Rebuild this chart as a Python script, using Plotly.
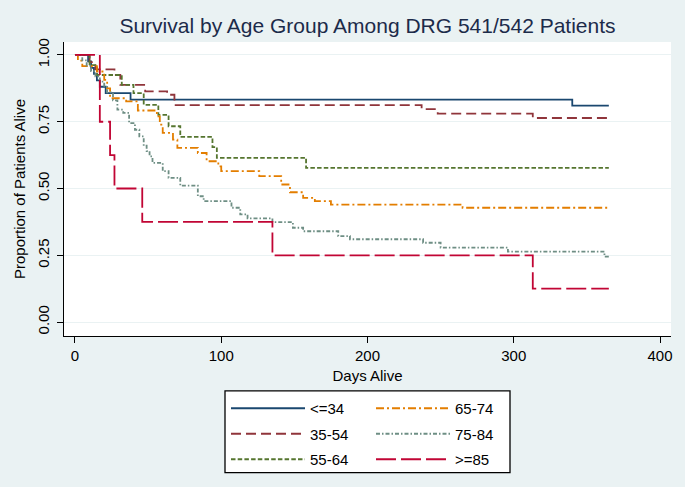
import plotly.graph_objects as go

# ---- data (Kaplan-Meier step values) ----
days_le34 = [0, 9, 11, 13, 15, 17, 21, 38, 340, 365]
surv_le34 = [1.0, 0.976, 0.952, 0.929, 0.905, 0.881, 0.857, 0.833, 0.810, 0.810]

days_35_54 = [0, 10, 14, 27, 31, 48, 63, 68, 237, 248, 313, 365]
surv_35_54 = [1.0, 0.973, 0.946, 0.925, 0.888, 0.864, 0.851, 0.812, 0.797, 0.780, 0.764, 0.764]

days_55_64 = [0, 10, 15, 32, 40, 47, 57, 64, 72, 94, 97, 158, 365]
surv_55_64 = [1.0, 0.962, 0.925, 0.888, 0.857, 0.813, 0.776, 0.733, 0.693, 0.655, 0.615, 0.577, 0.577]

days_65_74 = [0, 2, 5, 15, 20, 22, 24, 35, 43, 56, 58, 60, 67, 70, 84, 90, 98, 100,
              126, 141, 147, 156, 164, 175, 265, 365]
surv_65_74 = [1.0, 0.979, 0.958, 0.938, 0.907, 0.875, 0.838, 0.826, 0.792, 0.770, 0.739,
              0.708, 0.683, 0.652, 0.633, 0.602, 0.583, 0.565, 0.546, 0.515, 0.486, 0.465,
              0.453, 0.440, 0.428, 0.428]

days_75_84 = [0, 5, 8, 11, 14, 17, 20, 22, 26, 29, 33, 37, 41, 44, 47, 49, 51, 53, 60,
              64, 72, 84, 88, 107, 113, 118, 135, 149, 156, 180, 188, 238, 250, 296, 362, 365]
surv_75_84 = [1.0, 0.980, 0.960, 0.940, 0.920, 0.900, 0.880, 0.860, 0.830, 0.795, 0.783,
              0.745, 0.720, 0.695, 0.660, 0.640, 0.620, 0.596, 0.565, 0.540, 0.511, 0.471,
              0.453, 0.428, 0.403, 0.388, 0.374, 0.353, 0.340, 0.322, 0.310, 0.297, 0.279,
              0.264, 0.245, 0.245]

days_ge85 = [0, 17, 24, 27, 46, 135, 313, 365]
surv_ge85 = [1.0, 0.75, 0.625, 0.5, 0.375, 0.25, 0.125, 0.125]

group_labels = ["<=34", "35-54", "55-64", "65-74", "75-84", ">=85"]
x_ticks = [0, 100, 200, 300, 400]
y_ticks = [0.0, 0.25, 0.5, 0.75, 1.0]
y_tick_text = ["0.00", "0.25", "0.50", "0.75", "1.00"]

series = [
    (days_le34, surv_le34, "#1A476F", "solid", "legend"),
    (days_35_54, surv_35_54, "#90353B", "10px,5px", "legend"),
    (days_55_64, surv_55_64, "#55752F", "4.5px,2.2px", "legend"),
    (days_65_74, surv_65_74, "#E37E00", "8px,3px,2px,3px", "legend2"),
    (days_75_84, surv_75_84, "#6E8E84", "4px,2px,1.5px,2px", "legend2"),
    (days_ge85, surv_ge85, "#C10534", "20px,5px", "legend2"),
]

fig = go.Figure()
for (dx, sy, col, dash, leg), name in zip(series, group_labels):
    fig.add_trace(go.Scatter(
        x=dx, y=sy, mode="lines", name=name, line_shape="hv",
        line=dict(color=col, width=1.8, dash=dash), legend=leg, legendgroup=name,
        hoverinfo="skip",
    ))

BG = "#EAF2F3"
FONT = "Liberation Sans, Arial, sans-serif"
L, R, T, B = 64, 14, 42, 150
W, H = 685, 487
PW, PH = W - L - R, H - T - B

def px_x(p):
    return (p - L) / PW

def px_y(p):
    return (H - B - p) / PH

legend_common = dict(
    orientation="v", bgcolor="rgba(0,0,0,0)", borderwidth=0,
    font=dict(family=FONT, size=15, color="black"),
    itemwidth=74, tracegroupgap=3, xanchor="left", yanchor="top",
    itemclick=False, itemdoubleclick=False,
)

fig.update_layout(
    width=W, height=H,
    margin=dict(l=L, r=R, t=T, b=B),
    paper_bgcolor=BG, plot_bgcolor="white",
    font=dict(family=FONT, size=15, color="black"),
    title=dict(text="Survival by Age Group Among DRG 541/542 Patients",
               x=0.5, xref="paper", xanchor="center",
               y=1 - 26 / H, yref="container", yanchor="middle",
               font=dict(family=FONT, size=21, color="#1C2B4A")),
    xaxis=dict(range=[-7.5, 407.5], tickvals=x_ticks, showgrid=False, zeroline=False,
               showline=True, linecolor="black", linewidth=1.3, ticks="outside",
               ticklen=6, tickcolor="black", tickwidth=1.3, ticklabeloverflow="allow",
               tickfont=dict(size=15, color="black"),
               title=dict(text="Days Alive", font=dict(size=15, color="black"), standoff=7)),
    yaxis=dict(range=[-0.0522, 1.0485], tickvals=y_ticks, ticktext=y_tick_text,
               tickangle=-90, showgrid=True, gridcolor=BG, gridwidth=1.2,
               zeroline=False, showline=True, linecolor="black", linewidth=1.3,
               ticks="outside", ticklen=6, tickcolor="black", tickwidth=1.3,
               ticklabelstandoff=2,
               tickfont=dict(size=15, color="black"),
               title=dict(text="Proportion of Patients Alive",
                          font=dict(size=15, color="black"), standoff=5)),
    legend=dict(x=px_x(226), y=px_y(392), **legend_common),
    legend2=dict(x=px_x(371), y=px_y(392), **legend_common),
    shapes=[dict(type="rect", xref="paper", yref="paper",
                 x0=px_x(225), x1=px_x(510), y0=px_y(392), y1=px_y(474),
                 line=dict(color="black", width=1.3), fillcolor="white", layer="below")],
)

fig.write_html(
    "out.html",
    config={"displayModeBar": False},
    post_script="document.body.style.margin='0';document.body.style.background='%s';" % BG,
)
